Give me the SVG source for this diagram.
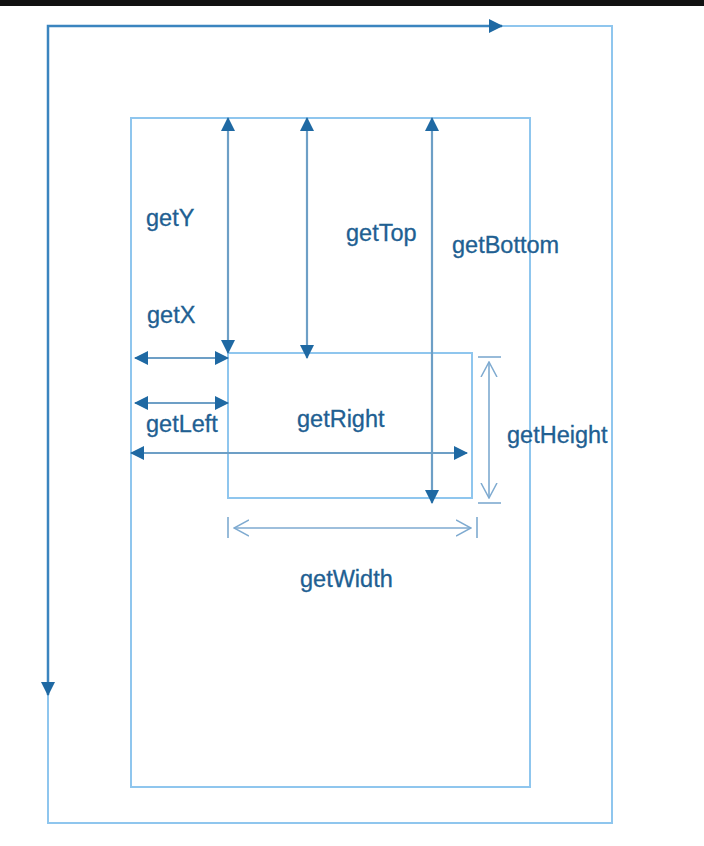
<svg xmlns="http://www.w3.org/2000/svg" width="704" height="846" viewBox="0 0 704 846">
<style>
.box{fill:none;stroke:#8fc6ee;stroke-width:2}
.dark{fill:none;stroke:#3b85bf;stroke-width:2.5}
.arr{fill:none;stroke:#6d9fc6;stroke-width:2.2}
.thin{fill:none;stroke:#7eaad0;stroke-width:1.6}
.lbl{font-family:"Liberation Sans",Arial,sans-serif;font-size:23.5px;fill:#215f92;stroke:#215f92;stroke-width:0.3}
</style>
<defs>
<marker id="ah" viewBox="0 0 14 14" refX="13" refY="7" markerWidth="14" markerHeight="14" markerUnits="userSpaceOnUse" orient="auto-start-reverse">
<path d="M0,0 L14,7 L0,14 Z" fill="#1f69a3"/>
</marker>
<marker id="oh" viewBox="0 0 16 18" refX="15" refY="9" markerWidth="16" markerHeight="18" markerUnits="userSpaceOnUse" orient="auto-start-reverse">
<path d="M0,1 L15,9 L0,17" fill="none" stroke="#7eaad0" stroke-width="1.5"/>
</marker>
</defs>
<rect x="0" y="0" width="704" height="6" fill="#111111"/>
<g id="outer">
<rect class="box" x="48" y="26" width="564" height="797"/>
<path class="dark" d="M48,695 L48,26 L502,26" marker-end="url(#ah)" marker-start="url(#ah)"/>
</g>
<g id="inner">
<rect class="box" x="131" y="118" width="399" height="669"/>
</g>
<g id="view">
<rect class="box" x="228" y="353" width="244" height="145"/>
</g>
<g id="connectors">
<line class="arr" x1="228" y1="118" x2="228" y2="353" marker-start="url(#ah)" marker-end="url(#ah)"/>
<line class="arr" x1="307" y1="118" x2="307" y2="358" marker-start="url(#ah)" marker-end="url(#ah)"/>
<line class="arr" x1="432" y1="118" x2="432" y2="503" marker-start="url(#ah)" marker-end="url(#ah)"/>
<line class="arr" x1="135" y1="358" x2="228" y2="358" marker-start="url(#ah)" marker-end="url(#ah)"/>
<line class="arr" x1="135" y1="403" x2="228" y2="403" marker-start="url(#ah)" marker-end="url(#ah)"/>
<line class="arr" x1="131" y1="453" x2="467" y2="453" marker-start="url(#ah)" marker-end="url(#ah)"/>
<line class="thin" x1="489" y1="362" x2="489" y2="498" marker-start="url(#oh)" marker-end="url(#oh)"/>
<line class="thin" x1="478" y1="357" x2="501" y2="357"/>
<line class="thin" x1="478" y1="503" x2="501" y2="503"/>
<line class="thin" x1="234" y1="528" x2="471" y2="528" marker-start="url(#oh)" marker-end="url(#oh)"/>
<line class="thin" x1="228" y1="517" x2="228" y2="538"/>
<line class="thin" x1="477" y1="517" x2="477" y2="538"/>
</g>
<g id="labels">
<text class="lbl" x="146" y="226">getY</text>
<text class="lbl" x="346" y="241">getTop</text>
<text class="lbl" x="452" y="253">getBottom</text>
<text class="lbl" x="147" y="323">getX</text>
<text class="lbl" x="146" y="432">getLeft</text>
<text class="lbl" x="297" y="427">getRight</text>
<text class="lbl" x="507" y="443">getHeight</text>
<text class="lbl" x="300" y="587">getWidth</text>
</g>
</svg>
